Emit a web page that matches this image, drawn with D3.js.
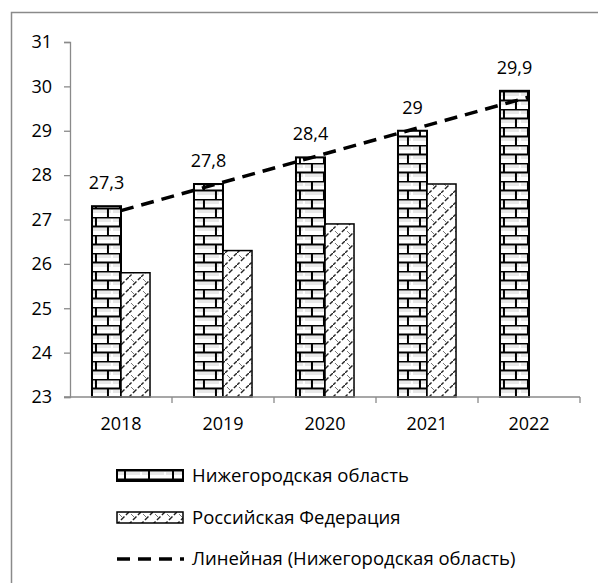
<!DOCTYPE html>
<html>
<head>
<meta charset="utf-8">
<script src="https://cdn.jsdelivr.net/npm/d3@7"></script>
<style>
  body { margin: 0; background: #fff; }
  text { font-family: "Open Sans", "Noto Sans", sans-serif; fill: #000; }
</style>
</head>
<body>
<div id="chart"></div>
<script>
// chart data
const years = ["2018", "2019", "2020", "2021", "2022"];
const nizhny = [27.3, 27.8, 28.4, 29, 29.9];
const russia = [25.8, 26.3, 26.9, 27.8, null];
const yTicks = [23, 24, 25, 26, 27, 28, 29, 30, 31];
const seriesNames = ["Нижегородская область", "Российская Федерация", "Линейная (Нижегородская область)"];

const W = 598, H = 583;
const margin = {left: 70, right: 18, top: 42, bottom: 186};
const fontSize = 18;

const svg = d3.select("#chart").append("svg")
  .attr("width", W)
  .attr("height", H);

const defs = svg.append("defs");

// brick pattern for Nizhny bars
function brickPattern(id, x0, y0) {
  const p = defs.append("pattern")
    .attr("id", id)
    .attr("patternUnits", "userSpaceOnUse")
    .attr("x", x0).attr("y", y0)
    .attr("width", 24).attr("height", 18);
  p.append("rect").attr("width", 24).attr("height", 18).attr("fill", "#fff");
  p.append("rect").attr("x", 1).attr("y", 2).attr("width", 22).attr("height", 3).attr("fill", "#e8e8e8");
  p.append("rect").attr("x", 1).attr("y", 11).attr("width", 22).attr("height", 3).attr("fill", "#e8e8e8");
  p.append("path")
    .attr("d", "M0,0.5H24M0,9.5H24M8,0V9M20,9V18")
    .attr("stroke", "#000").attr("stroke-width", 2).attr("fill", "none");
}

// dashed upward diagonal pattern for Russia bars
function diagPattern(id, x0, y0) {
  const p = defs.append("pattern")
    .attr("id", id)
    .attr("patternUnits", "userSpaceOnUse")
    .attr("x", x0).attr("y", y0)
    .attr("width", 12).attr("height", 12);
  p.append("rect").attr("width", 12).attr("height", 12).attr("fill", "#fff");
  p.append("path")
    .attr("d", "M-1,13L13,-1")
    .attr("stroke", "#222").attr("stroke-width", 1.4)
    .attr("stroke-dasharray", "5,2");
  p.append("path")
    .attr("d", "M2,2L5,5")
    .attr("stroke", "#777").attr("stroke-width", 1);
}

const x = d3.scaleBand()
  .domain(years)
  .range([margin.left, W - margin.right])
  .paddingInner(0.431)
  .paddingOuter(0.2155);

const inner = d3.scaleBand()
  .domain(["n", "r"])
  .range([0, x.bandwidth()]);

const y = d3.scaleLinear()
  .domain([23, 31])
  .range([397, 42]);

// outer frame
svg.append("rect")
  .attr("x", 11.5).attr("y", 12.5)
  .attr("width", 620).attr("height", 620)
  .attr("fill", "none")
  .attr("stroke", "#8a8a8a")
  .attr("stroke-width", 1.5);

// y axis
const yAxis = svg.append("g")
  .attr("transform", `translate(${margin.left},0)`)
  .call(d3.axisLeft(y).tickValues(yTicks).tickSize(6).tickPadding(12).tickFormat(d3.format("d")));
yAxis.select(".domain").attr("stroke", "#8a8a8a").attr("stroke-width", 1.3);
yAxis.selectAll(".tick line").attr("stroke", "#8a8a8a").attr("stroke-width", 1.3);
yAxis.selectAll(".tick text").attr("font-size", fontSize).attr("font-family", "Open Sans").attr("fill", "#000");

// bars
const groups = svg.append("g").selectAll("g")
  .data(years)
  .join("g")
  .attr("transform", d => `translate(${x(d)},0)`);

years.forEach((yr, i) => {
  brickPattern("brick" + i, x(yr) + inner("n"), y(23));
  diagPattern("diag" + i, x(yr) + inner("r"), y(23));
});

groups.append("rect")
  .attr("x", inner("n"))
  .attr("y", (d, i) => y(nizhny[i]))
  .attr("width", inner.bandwidth())
  .attr("height", (d, i) => y(23) - y(nizhny[i]))
  .attr("fill", (d, i) => `url(#brick${i})`)
  .attr("stroke", "#000")
  .attr("stroke-width", 2);

groups.filter((d, i) => russia[i] != null).append("rect")
  .attr("x", inner("r"))
  .attr("y", d => y(russia[years.indexOf(d)]))
  .attr("width", inner.bandwidth())
  .attr("height", d => y(23) - y(russia[years.indexOf(d)]))
  .attr("fill", d => `url(#diag${years.indexOf(d)})`)
  .attr("stroke", "#000")
  .attr("stroke-width", 1.5);

// data labels
const fmt = v => String(v).replace(".", ",");
groups.append("text")
  .attr("x", inner("n") + inner.bandwidth() / 2)
  .attr("y", (d, i) => y(nizhny[i]) - 17)
  .attr("text-anchor", "middle")
  .attr("font-size", fontSize)
  .text((d, i) => fmt(nizhny[i]));

// x axis
const xAxis = svg.append("g")
  .attr("transform", `translate(0,${y(23)})`);
xAxis.append("line")
  .attr("x1", margin.left - 6).attr("x2", x.range()[1])
  .attr("stroke", "#8a8a8a").attr("stroke-width", 1.3);
xAxis.selectAll(".xt")
  .data(years)
  .join("line")
  .attr("x1", d => x(d) - x.step() * x.paddingOuter() + x.step())
  .attr("x2", d => x(d) - x.step() * x.paddingOuter() + x.step())
  .attr("y1", 0).attr("y2", 6)
  .attr("stroke", "#8a8a8a").attr("stroke-width", 1.3);
xAxis.selectAll(".xl")
  .data(years)
  .join("text")
  .attr("x", d => x(d) + x.bandwidth() / 2)
  .attr("y", 33)
  .attr("text-anchor", "middle")
  .attr("font-size", fontSize)
  .text(d => d);

// linear trend of Nizhny series (least squares)
const xs = nizhny.map((v, i) => i + 1);
const mx = d3.mean(xs), my = d3.mean(nizhny);
const slope = d3.sum(xs, (v, i) => (v - mx) * (nizhny[i] - my)) / d3.sum(xs, v => (v - mx) ** 2);
const intercept = my - slope * mx;
const cx = yr => x(yr) + x.bandwidth() / 2;
const trend = [years[0], years[years.length - 1]].map(yr => {
  const k = years.indexOf(yr) + 1;
  return [cx(yr), y(intercept + slope * k)];
});
svg.append("path")
  .attr("d", d3.line()(trend))
  .attr("fill", "none")
  .attr("stroke", "#000")
  .attr("stroke-width", 3.5)
  .attr("stroke-dasharray", "13,8");

// legend
const legend = svg.append("g");
const ly = [476, 518, 559];
brickPattern("brickLeg", 117, ly[0] - 6);
diagPattern("diagLeg", 117, ly[1] - 6);
legend.append("rect")
  .attr("x", 117).attr("y", ly[0] - 6).attr("width", 66).attr("height", 11)
  .attr("fill", "url(#brickLeg)").attr("stroke", "#000").attr("stroke-width", 2);
legend.append("rect")
  .attr("x", 117).attr("y", ly[1] - 6).attr("width", 66).attr("height", 11)
  .attr("fill", "url(#diagLeg)").attr("stroke", "#000").attr("stroke-width", 1.5);
legend.append("line")
  .attr("x1", 117).attr("x2", 184).attr("y1", ly[2]).attr("y2", ly[2])
  .attr("stroke", "#000").attr("stroke-width", 3.5).attr("stroke-dasharray", "13,8");
legend.selectAll(".lt")
  .data(seriesNames)
  .join("text")
  .attr("x", 192)
  .attr("y", (d, i) => ly[i])
  .attr("dy", "0.35em")
  .attr("font-size", 18.5)
  .text(d => d);
</script>
</body>
</html>
